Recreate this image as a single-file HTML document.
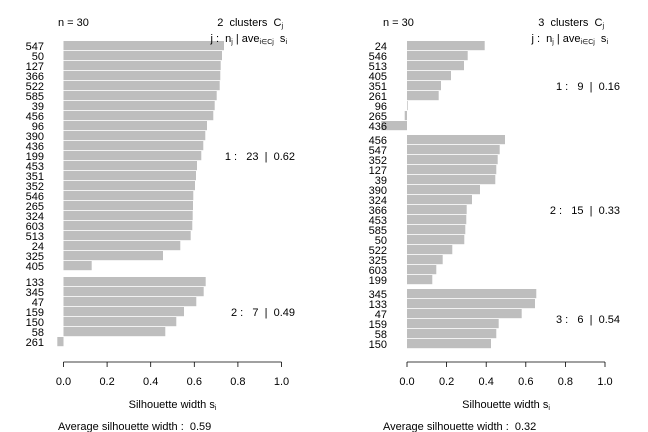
<!DOCTYPE html>
<html><head><meta charset="utf-8"><style>
html,body{margin:0;padding:0;background:#fff;}
svg{display:block;font-family:"Liberation Sans",sans-serif;font-size:11px;}
text{white-space:pre;}
</style></head><body>
<svg id="s" width="648" height="432" xmlns="http://www.w3.org/2000/svg"></svg>
<script>
var s=document.getElementById('s'),h='';
function t(x,y,str,anchor){h+='<text xml:space="preserve" x="'+x+'" y="'+y+'" text-anchor="'+(anchor||'start')+'">'+str+'</text>';}
function panel(x0,scale,groups,lblR,ncl,avg,rightEnd,infoX,leftX){
  var y=41;
  groups.forEach(function(g,gi){
    var gy=y;
    g.rows.forEach(function(r){
      var a=Math.min(x0,r[1]),b=Math.max(x0,r[1]);
      if(b-a<0.6)b=a+0.6;
      h+='<rect x="'+a+'" y="'+y+'" width="'+(b-a)+'" height="9.2" fill="#bebebe"/>';
      t(lblR,y+9,r[0],'end');
      y+=10;
    });
    var mid=(gy+y)/2;
    t(infoX,mid+4,g.info,'end');
    y+=g.gap||0;
  });
  h+='<line x1="'+x0+'" y1="362" x2="'+(x0+scale)+'" y2="362" stroke="#000" stroke-width="0.8"/>';
  for(var i=0;i<=5;i++){var xx=x0+scale*i/5;h+='<line x1="'+xx+'" y1="362" x2="'+xx+'" y2="367" stroke="#000" stroke-width="0.8"/>';t(xx,385,(i/5).toFixed(1),'middle');}
  t(x0+scale/2,408,'Silhouette width s<tspan font-size="7" dy="2">i</tspan>','middle');
  t(leftX,430,'Average silhouette width :  '+avg);
  t(leftX,26,'n = 30');
  t(rightEnd,26,ncl+'  clusters  C<tspan font-size="7" dy="2">j</tspan>','end');
  t(rightEnd+4,42,'j :  n<tspan font-size="7" dy="2">j</tspan><tspan dy="-2"> | ave</tspan><tspan font-size="7" dy="2">i∈Cj</tspan><tspan dy="-2">  s</tspan><tspan font-size="7" dy="2">i</tspan>','end');
}
function mk(names,ends){return names.map(function(n,i){return [n,ends[i]];});}
var L=[
 {rows:mk(['547','50','127','366','522','585','39','456','96','390','436','199','453','351','352','546','265','324','603','513','24','325','405'],
  [224,222,220.7,220.3,219.7,216.7,214.7,213.3,207,205.3,203.3,201.3,197,196,195,193.3,193,192.7,192.3,190.7,180.3,163,91.7]),info:'1 :   23  |  0.62',gap:6},
 {rows:mk(['133','345','47','159','150','58','261'],[205.7,203.7,196.3,184,176.3,165.3,57.3]),info:'2 :   7  |  0.49'}
];
panel(63.5,218,L,44,2,'0.59',283,295,58);
var R=[
 {rows:mk(['24','546','513','405','351','261','96','265','436'],[484.7,467.7,464,451,441,438.7,407.7,404.7,381.3]),info:'1 :   9  |  0.16',gap:4},
 {rows:mk(['456','547','352','127','39','390','324','366','453','585','50','522','325','603','199'],
  [505,499.7,497.7,496.3,495.3,480,472,466.7,466.3,465.3,464.3,452.3,442.7,436.3,432.3]),info:'2 :   15  |  0.33',gap:4},
 {rows:mk(['345','133','47','159','58','150'],[536.3,535,521.7,498.7,496.3,491]),info:'3 :   6  |  0.54'}
];
panel(407,198,R,387,3,'0.32',604,620,383);
s.innerHTML=h;
</script>
</body></html>
